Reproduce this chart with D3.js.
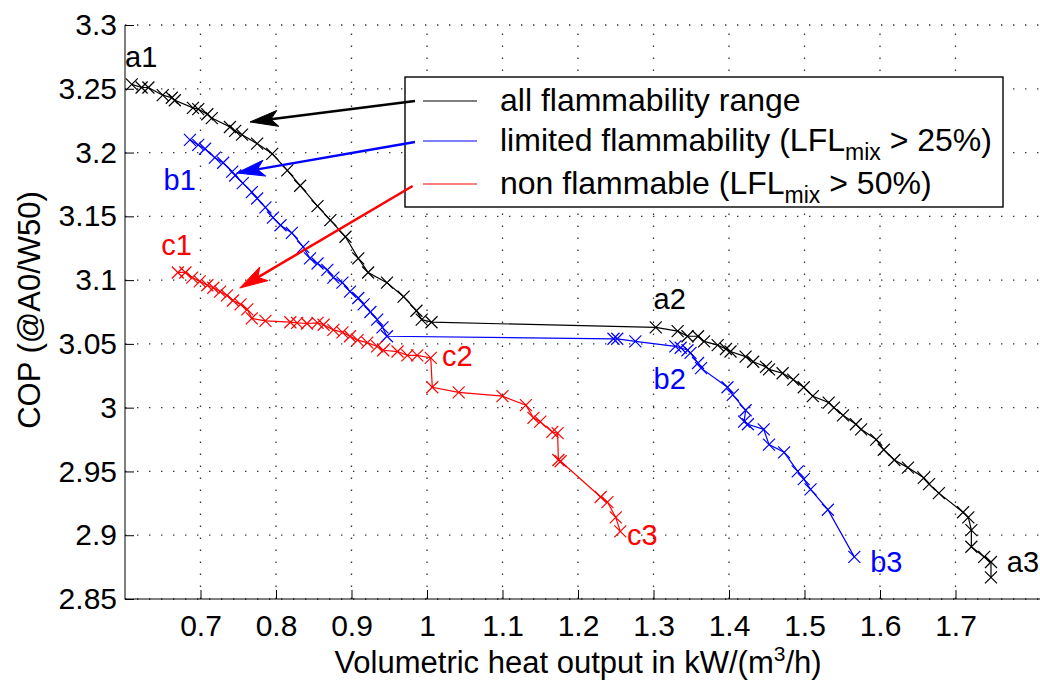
<!DOCTYPE html>
<html><head><meta charset="utf-8">
<script src="https://cdn.jsdelivr.net/npm/d3@7"></script>
<style>
body{margin:0;background:#fff}
text{font-family:"Liberation Sans",Arial,Helvetica,sans-serif;fill:#000}
</style>
</head><body>
<svg id="chart" width="1040" height="681"></svg>
<script>
// ---- data ----
const xTicks = [0.7,0.8,0.9,1.0,1.1,1.2,1.3,1.4,1.5,1.6,1.7];
const xTickLabels = ["0.7","0.8","0.9","1","1.1","1.2","1.3","1.4","1.5","1.6","1.7"];
const yTicks = [2.85,2.9,2.95,3.0,3.05,3.1,3.15,3.2,3.25,3.3];
const yTickLabels = ["2.85","2.9","2.95","3","3.05","3.1","3.15","3.2","3.25","3.3"];

// a: all flammability range
const allX = [0.609,0.622,0.631,0.650,0.662,0.666,0.690,0.697,0.709,0.715,0.739,0.746,0.755,0.775,0.795,0.815,0.832,0.855,0.872,0.892,0.909,0.922,0.947,0.969,0.986,0.993,1.006,1.303,1.332,1.345,1.359,1.367,1.385,1.396,1.402,1.422,1.432,1.449,1.453,1.471,1.485,1.499,1.511,1.532,1.539,1.551,1.568,1.575,1.595,1.605,1.619,1.637,1.658,1.665,1.678,1.710,1.717,1.721,1.721,1.738,1.747,1.747];
const allY = [3.2535,3.251,3.251,3.245,3.243,3.241,3.235,3.234,3.230,3.227,3.220,3.217,3.214,3.207,3.199,3.186,3.174,3.158,3.147,3.134,3.117,3.106,3.098,3.087,3.076,3.069,3.067,3.063,3.060,3.056,3.056,3.052,3.049,3.046,3.044,3.040,3.036,3.032,3.030,3.027,3.022,3.016,3.009,3.004,3.000,2.994,2.987,2.983,2.975,2.967,2.959,2.953,2.945,2.940,2.933,2.918,2.914,2.904,2.891,2.883,2.879,2.867];

// b: limited flammability
const limX = [0.686,0.697,0.706,0.719,0.730,0.742,0.746,0.756,0.768,0.775,0.786,0.796,0.806,0.821,0.836,0.845,0.855,0.868,0.876,0.888,0.898,0.909,0.916,0.925,0.934,0.941,0.947,1.247,1.252,1.276,1.329,1.336,1.345,1.349,1.359,1.363,1.398,1.405,1.422,1.420,1.425,1.446,1.453,1.473,1.491,1.499,1.508,1.531,1.566];
const limY = [3.210,3.206,3.203,3.196,3.192,3.185,3.182,3.176,3.169,3.164,3.157,3.149,3.143,3.137,3.126,3.117,3.113,3.108,3.102,3.098,3.091,3.086,3.081,3.075,3.069,3.063,3.056,3.054,3.054,3.052,3.048,3.047,3.045,3.043,3.035,3.031,3.016,3.010,2.998,2.989,2.987,2.983,2.971,2.965,2.950,2.944,2.936,2.920,2.883];

// c: non flammable
const nonX = [0.670,0.680,0.689,0.699,0.709,0.717,0.726,0.735,0.743,0.753,0.762,0.768,0.786,0.819,0.828,0.841,0.855,0.863,0.876,0.888,0.898,0.908,0.921,0.934,0.942,0.961,0.974,0.987,1.005,1.007,1.042,1.100,1.131,1.141,1.150,1.166,1.173,1.174,1.177,1.230,1.239,1.250,1.256];
const nonY = [3.106,3.106,3.102,3.099,3.096,3.094,3.091,3.088,3.084,3.081,3.077,3.070,3.068,3.067,3.0665,3.066,3.0665,3.065,3.061,3.059,3.056,3.053,3.051,3.048,3.045,3.044,3.041,3.041,3.039,3.016,3.012,3.009,3.002,2.992,2.989,2.981,2.980,2.959,2.958,2.930,2.926,2.914,2.903];

const seriesNames = ["all flammability range","limited flammability (LFL","non flammable (LFL"];
const seriesSuffix = [""," > 25%)"," > 50%)"];
const seriesColors = ["#000000","#0000ff","#ff0000"];

// point labels: [text, x, y, series index]
const pointLabels = [
  ["a1",0.600,3.267,0],["a2",1.300,3.077,0],["a3",1.768,2.871,0],
  ["b1",0.651,3.171,1],["b2",1.300,3.015,1],["b3",1.587,2.871,1],
  ["c1",0.648,3.120,2],["c2",1.020,3.033,2],["c3",1.265,2.892,2]
];
// annotation arrows: [fromX, fromY, tipX, tipY, series index]
const arrows = [
  [0.984,3.2404,0.7656,3.224,0],
  [0.984,3.2083,0.748,3.184,1],
  [0.981,3.1738,0.752,3.0938,2]
];

// ---- layout ----
const L=125, R=1031, T=25, B=599;
const x = d3.scaleLinear().domain([0.6,1.8]).range([L,R]);
const y = d3.scaleLinear().domain([2.85,3.3]).range([B,T]);
const svg = d3.select("#chart");

// grid
const grid = svg.append("g").attr("stroke","#333").attr("stroke-width",1.3).attr("stroke-dasharray","1.4 10.6");
grid.selectAll(".gx").data(xTicks).join("line").attr("x1",d=>x(d)).attr("x2",d=>x(d)).attr("y1",B).attr("y2",T);
grid.selectAll(".gy").data(yTicks).join("line").attr("x1",L).attr("x2",1040).attr("y1",d=>y(d)).attr("y2",d=>y(d));

// axes
const xAxis = svg.append("g").attr("transform",`translate(0,${B})`)
  .call(d3.axisBottom(x).tickValues(xTicks).tickFormat((d,i)=>xTickLabels[i]).tickSize(-9).tickSizeOuter(0).tickPadding(16));
const yAxis = svg.append("g").attr("transform",`translate(${L},0)`)
  .call(d3.axisLeft(y).tickValues(yTicks).tickFormat((d,i)=>yTickLabels[i]).tickSize(-9).tickSizeOuter(0).tickPadding(8));
[xAxis,yAxis].forEach(a=>{
  a.select(".domain").remove();
  a.selectAll("line").attr("stroke","#000");
  a.selectAll("text").attr("font-size",30).attr("font-family",null).attr("fill","#000");
});
svg.append("line").attr("x1",L).attr("x2",L).attr("y1",T).attr("y2",B+0.5).attr("stroke","#000");
svg.append("line").attr("x1",L).attr("x2",1040).attr("y1",B).attr("y2",B).attr("stroke","#000");

// axis titles
const xt = svg.append("text").attr("x",578).attr("y",673).attr("text-anchor","middle").attr("font-size",31);
xt.append("tspan").text("Volumetric heat output in kW/(m");
xt.append("tspan").attr("font-size",21).attr("dy",-12).text("3");
xt.append("tspan").attr("dy",12).text("/h)");
svg.append("text").attr("transform","translate(40,310) rotate(-90)").attr("text-anchor","middle")
  .attr("font-size",31).text("COP (@A0/W50)");

// series
const sets = [[allX,allY],[limX,limY],[nonX,nonY]];
const line = d3.line().x(d=>x(d[0])).y(d=>y(d[1]));
const m = 6;
sets.forEach(([xs,ys],i)=>{
  const pts = xs.map((v,k)=>[v,ys[k]]);
  const g = svg.append("g");
  g.append("path").datum(pts).attr("d",line).attr("fill","none").attr("stroke",seriesColors[i]).attr("stroke-width",1.2);
  g.selectAll("path.mk").data(pts).join("path").attr("class","mk")
    .attr("d",d=>`M${x(d[0])-m},${y(d[1])-m}L${x(d[0])+m},${y(d[1])+m}M${x(d[0])-m},${y(d[1])+m}L${x(d[0])+m},${y(d[1])-m}`)
    .attr("stroke",seriesColors[i]).attr("stroke-width",1.2).attr("fill","none");
});

// point labels
svg.selectAll("text.pl").data(pointLabels).join("text").attr("class","pl")
  .attr("x",d=>x(d[1])).attr("y",d=>y(d[2])).attr("font-size",29)
  .style("fill",d=>seriesColors[d[3]]).text(d=>d[0]);

// legend
const lg = svg.append("g");
lg.append("rect").attr("x",405).attr("y",77).attr("width",598).attr("height",130)
  .attr("fill","#fff").attr("stroke","#000").attr("stroke-width",1.4);
const rowY = [101,141,184];
seriesNames.forEach((nm,i)=>{
  lg.append("line").attr("x1",423).attr("x2",477).attr("y1",rowY[i]).attr("y2",rowY[i])
    .attr("stroke",seriesColors[i]).attr("stroke-width",1.2);
  const t = lg.append("text").attr("x",500).attr("y",rowY[i]+10).attr("font-size",32);
  t.append("tspan").text(nm);
  if(i>0){
    t.append("tspan").attr("font-size",23).attr("dy",9).text("mix");
    t.append("tspan").attr("dy",-9).text(seriesSuffix[i]);
  }
});

// arrows
arrows.forEach(a=>{
  const sx=x(a[0]), sy=y(a[1]), tx=x(a[2]), ty=y(a[3]);
  const dx=sx-tx, dy=sy-ty, len=Math.hypot(dx,dy);
  const ux=dx/len, uy=dy/len, nx=-uy, ny=ux;
  const HL=28, HW=8, NT=7;
  const c = seriesColors[a[4]];
  svg.append("line").attr("x1",sx).attr("y1",sy).attr("x2",tx+ux*(HL-NT)).attr("y2",ty+uy*(HL-NT))
    .attr("stroke",c).attr("stroke-width",2.5);
  svg.append("path").attr("d",`M${tx},${ty}L${tx+ux*HL+nx*HW},${ty+uy*HL+ny*HW}L${tx+ux*(HL-NT)},${ty+uy*(HL-NT)}L${tx+ux*HL-nx*HW},${ty+uy*HL-ny*HW}Z`)
    .attr("fill",c).attr("stroke",c).attr("stroke-width",1);
});
</script>
</body></html>
